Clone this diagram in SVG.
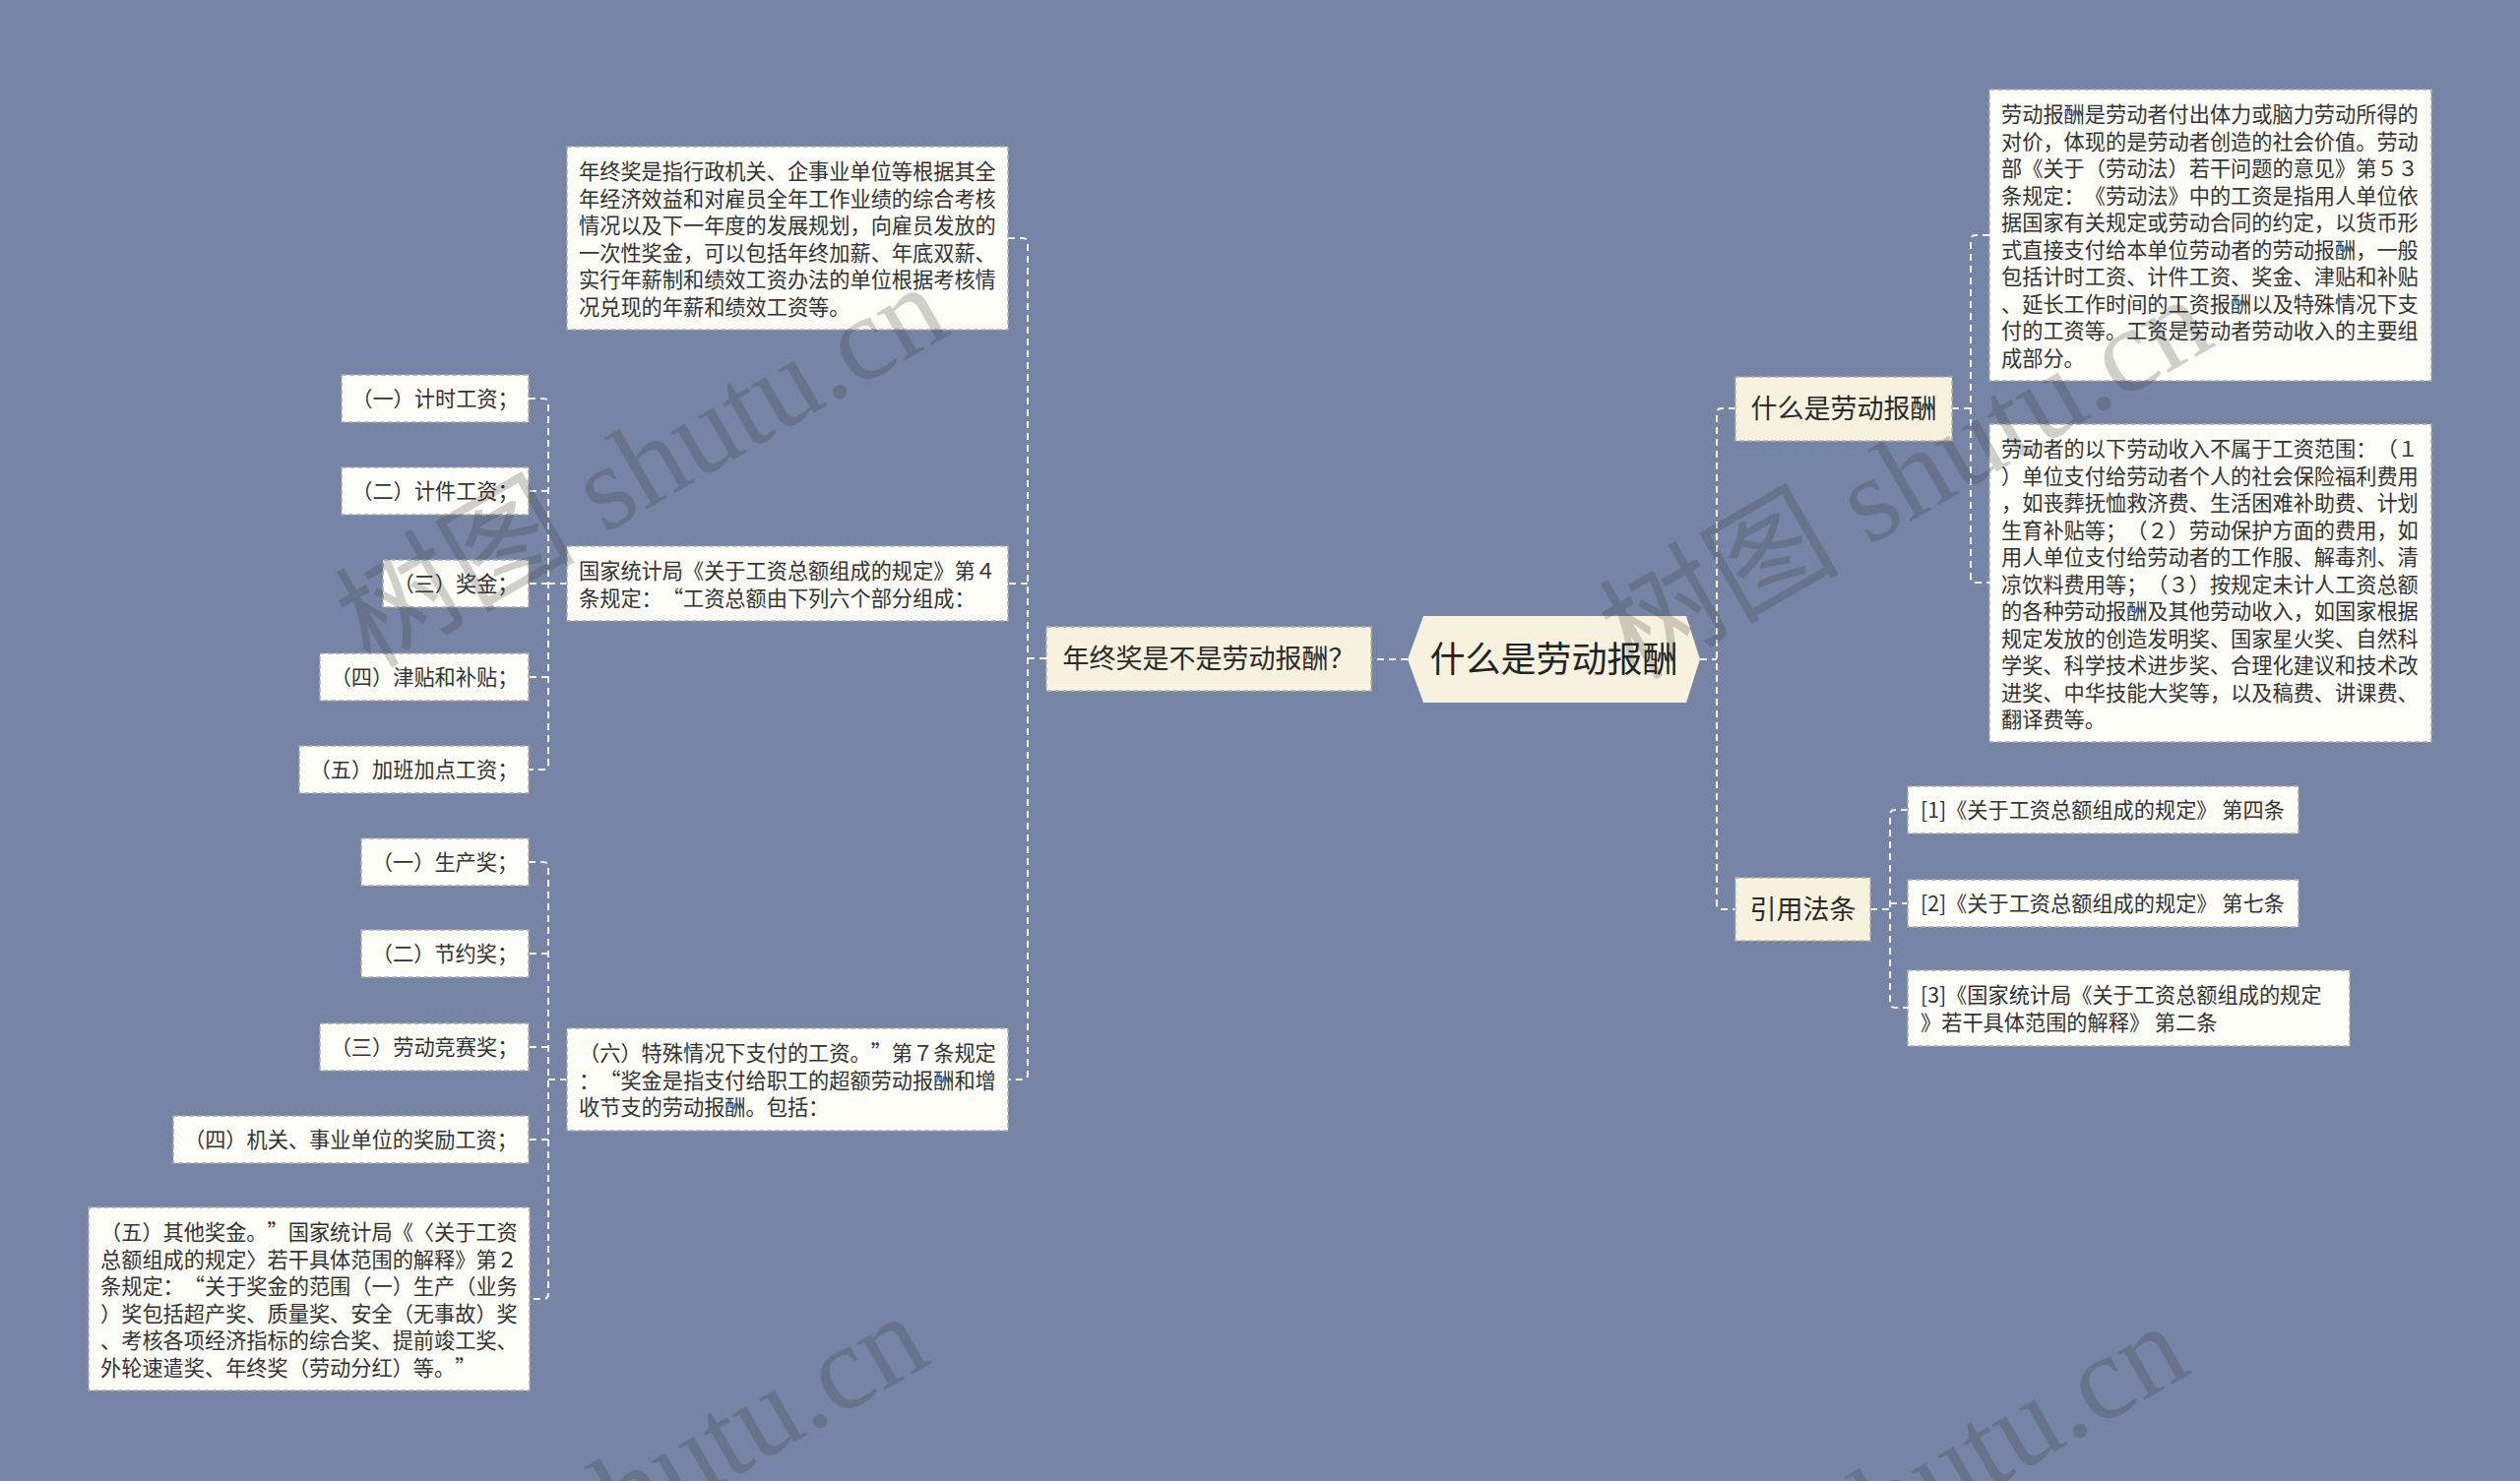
<svg xmlns="http://www.w3.org/2000/svg" width="2560" height="1505" viewBox="0 0 2560 1505">
<style>
.conn{fill:none;stroke:#f3f3f3;stroke-width:2;stroke-dasharray:7 5}
.l1{fill:#f6f2de;stroke:#b9b39c;stroke-width:1.5;stroke-dasharray:5 3}
.leaf{fill:#fdfdf7;stroke:#a9a9a9;stroke-width:1.5;stroke-dasharray:5 3}
.root{fill:#f6f2de}
text{font-family:"Noto Sans CJK SC","Noto Sans CJK JP",sans-serif;fill:#333;text-spacing-trim:space-all;font-kerning:none}
.s{font-size:21.2px}
.c{text-anchor:middle}
.m{font-size:27px;fill:#2a2a2a;text-anchor:middle}
.r{font-size:36px;fill:#222;text-anchor:middle}
.wm{font-family:"Liberation Serif","Noto Sans CJK SC",serif;font-size:122px;fill:#333;fill-opacity:0.22}
</style>
<rect width="2560" height="1505" fill="#7685a5"/>

<g id="connectors">
  <path class="conn" d="M1430,670 H1393"/>
  <path class="conn" d="M1063,669 H1044"/>
  <path class="conn" d="M1024,242 H1039 Q1044,242 1044,247 V1092 Q1044,1097 1039,1097 H1024"/>
  <path class="conn" d="M1044,593 H1024"/>
  <path class="conn" d="M576,593 H557"/>
  <path class="conn" d="M537,405 H552 Q557,405 557,410 V777 Q557,782 552,782 H537"/>
  <path class="conn" d="M557,499 H537"/>
  <path class="conn" d="M557,593 H537"/>
  <path class="conn" d="M557,688 H537"/>
  <path class="conn" d="M576,1097 H557"/>
  <path class="conn" d="M537,876 H552 Q557,876 557,881 V1315 Q557,1320 552,1320 H537"/>
  <path class="conn" d="M557,969 H537"/>
  <path class="conn" d="M557,1064 H537"/>
  <path class="conn" d="M557,1158 H537"/>
  <path class="conn" d="M1727,670 H1744"/>
  <path class="conn" d="M1763,415 H1749 Q1744,415 1744,420 V919 Q1744,924 1749,924 H1763"/>
  <path class="conn" d="M1983,415 H2002"/>
  <path class="conn" d="M2021,239 H2007 Q2002,239 2002,244 V587 Q2002,592 2007,592 H2021"/>
  <path class="conn" d="M1900,924 H1920"/>
  <path class="conn" d="M1938,823 H1925 Q1920,823 1920,828 V1019 Q1920,1024 1925,1024 H1938"/>
  <path class="conn" d="M1920,918 H1938"/>
</g>

<g id="n_root">
  <polygon class="root" points="1430,670 1446,626 1713,626 1727,670 1713,714 1446,714"/>
  <text class="r" x="1578.5" y="682.5">什么是劳动报酬</text>
</g>

<g id="n_q">
  <rect class="l1" x="1063" y="637" width="330" height="65"/>
  <text class="m" x="1228" y="679">年终奖是不是劳动报酬？</text>
</g>

<g id="n_a">
  <rect class="leaf" x="576" y="149" width="448" height="186"/>
  <text class="s" x="588" y="182">年终奖是指行政机关、企事业单位等根据其全</text>
  <text class="s" x="588" y="209.5">年经济效益和对雇员全年工作业绩的综合考核</text>
  <text class="s" x="588" y="237">情况以及下一年度的发展规划，向雇员发放的</text>
  <text class="s" x="588" y="264.5">一次性奖金，可以包括年终加薪、年底双薪、</text>
  <text class="s" x="588" y="292">实行年薪制和绩效工资办法的单位根据考核情</text>
  <text class="s" x="588" y="319.5">况兑现的年薪和绩效工资等。</text>
</g>

<g id="n_b">
  <rect class="leaf" x="576" y="555" width="448" height="76"/>
  <text class="s" x="588" y="588">国家统计局《关于工资总额组成的规定》第４</text>
  <text class="s" x="588" y="615.5">条规定：“工资总额由下列六个部分组成：</text>
</g>

<g id="n_b1"><rect class="leaf" x="347" y="381" width="190" height="48"/><text class="s c" x="442" y="413">（一）计时工资；</text></g>
<g id="n_b2"><rect class="leaf" x="347" y="475" width="190" height="48"/><text class="s c" x="442" y="507">（二）计件工资；</text></g>
<g id="n_b3"><rect class="leaf" x="389" y="569" width="148" height="48"/><text class="s c" x="463" y="601">（三）奖金；</text></g>
<g id="n_b4"><rect class="leaf" x="325" y="664" width="212" height="48"/><text class="s c" x="431" y="696">（四）津贴和补贴；</text></g>
<g id="n_b5"><rect class="leaf" x="304" y="758" width="233" height="48"/><text class="s c" x="420.5" y="790">（五）加班加点工资；</text></g>

<g id="n_c">
  <rect class="leaf" x="576" y="1045" width="448" height="104"/>
  <text class="s" x="588" y="1078">（六）特殊情况下支付的工资。”第７条规定</text>
  <text class="s" x="588" y="1105.5">：“奖金是指支付给职工的超额劳动报酬和增</text>
  <text class="s" x="588" y="1133">收节支的劳动报酬。包括：</text>
</g>

<g id="n_c1"><rect class="leaf" x="367" y="852" width="170" height="48"/><text class="s c" x="452" y="884">（一）生产奖；</text></g>
<g id="n_c2"><rect class="leaf" x="367" y="945" width="170" height="48"/><text class="s c" x="452" y="977">（二）节约奖；</text></g>
<g id="n_c3"><rect class="leaf" x="325" y="1040" width="212" height="48"/><text class="s c" x="431" y="1072">（三）劳动竞赛奖；</text></g>
<g id="n_c4"><rect class="leaf" x="176" y="1134" width="361" height="48"/><text class="s c" x="356.5" y="1166">（四）机关、事业单位的奖励工资；</text></g>

<g id="n_c5">
  <rect class="leaf" x="90" y="1227" width="448" height="186"/>
  <text class="s" x="102" y="1260">（五）其他奖金。”国家统计局《〈关于工资</text>
  <text class="s" x="102" y="1287.5">总额组成的规定〉若干具体范围的解释》第２</text>
  <text class="s" x="102" y="1315">条规定：“关于奖金的范围（一）生产（业务</text>
  <text class="s" x="102" y="1342.5">）奖包括超产奖、质量奖、安全（无事故）奖</text>
  <text class="s" x="102" y="1370">、考核各项经济指标的综合奖、提前竣工奖、</text>
  <text class="s" x="102" y="1397.5">外轮速遣奖、年终奖（劳动分红）等。”</text>
</g>

<g id="n_what">
  <rect class="l1" x="1763" y="383" width="220" height="65"/>
  <text class="m" x="1873" y="425">什么是劳动报酬</text>
</g>

<g id="n_r1">
  <rect class="leaf" x="2021" y="91" width="449" height="296"/>
  <text class="s" x="2033" y="124">劳动报酬是劳动者付出体力或脑力劳动所得的</text>
  <text class="s" x="2033" y="151.5">对价，体现的是劳动者创造的社会价值。劳动</text>
  <text class="s" x="2033" y="179">部《关于（劳动法）若干问题的意见》第５３</text>
  <text class="s" x="2033" y="206.5">条规定：《劳动法》中的工资是指用人单位依</text>
  <text class="s" x="2033" y="234">据国家有关规定或劳动合同的约定，以货币形</text>
  <text class="s" x="2033" y="261.5">式直接支付给本单位劳动者的劳动报酬，一般</text>
  <text class="s" x="2033" y="289">包括计时工资、计件工资、奖金、津贴和补贴</text>
  <text class="s" x="2033" y="316.5">、延长工作时间的工资报酬以及特殊情况下支</text>
  <text class="s" x="2033" y="344">付的工资等。工资是劳动者劳动收入的主要组</text>
  <text class="s" x="2033" y="371.5">成部分。</text>
</g>

<g id="n_r2">
  <rect class="leaf" x="2021" y="431" width="449" height="323"/>
  <text class="s" x="2033" y="464">劳动者的以下劳动收入不属于工资范围：（１</text>
  <text class="s" x="2033" y="491.5">）单位支付给劳动者个人的社会保险福利费用</text>
  <text class="s" x="2033" y="519">，如丧葬抚恤救济费、生活困难补助费、计划</text>
  <text class="s" x="2033" y="546.5">生育补贴等；（２）劳动保护方面的费用，如</text>
  <text class="s" x="2033" y="574">用人单位支付给劳动者的工作服、解毒剂、清</text>
  <text class="s" x="2033" y="601.5">凉饮料费用等；（３）按规定未计人工资总额</text>
  <text class="s" x="2033" y="629">的各种劳动报酬及其他劳动收入，如国家根据</text>
  <text class="s" x="2033" y="656.5">规定发放的创造发明奖、国家星火奖、自然科</text>
  <text class="s" x="2033" y="684">学奖、科学技术进步奖、合理化建议和技术改</text>
  <text class="s" x="2033" y="711.5">进奖、中华技能大奖等，以及稿费、讲课费、</text>
  <text class="s" x="2033" y="739">翻译费等。</text>
</g>

<g id="n_law">
  <rect class="l1" x="1763" y="892" width="137" height="64"/>
  <text class="m" x="1831.5" y="933.5">引用法条</text>
</g>

<g id="n_ref1"><rect class="leaf" x="1938" y="799" width="397" height="48"/><text class="s" x="1951" y="831">[1]《关于工资总额组成的规定》 第四条</text></g>
<g id="n_ref2"><rect class="leaf" x="1938" y="894" width="397" height="48"/><text class="s" x="1951" y="926">[2]《关于工资总额组成的规定》 第七条</text></g>
<g id="n_ref3">
  <rect class="leaf" x="1938" y="986" width="449" height="77"/>
  <text class="s" x="1951" y="1019">[3]《国家统计局《关于工资总额组成的规定</text>
  <text class="s" x="1951" y="1046.5">》若干具体范围的解释》 第二条</text>
</g>

<g id="watermarks">
  <text class="wm" x="376" y="680" transform="rotate(-30 376 680)">树图 shutu.cn</text>
  <text class="wm" x="1660" y="692" transform="rotate(-30 1660 692)">树图 shutu.cn</text>
  <text class="wm" x="356" y="1726" transform="rotate(-30 356 1726)">树图 shutu.cn</text>
  <text class="wm" x="1636" y="1736" transform="rotate(-30 1636 1736)">树图 shutu.cn</text>
</g>
</svg>
